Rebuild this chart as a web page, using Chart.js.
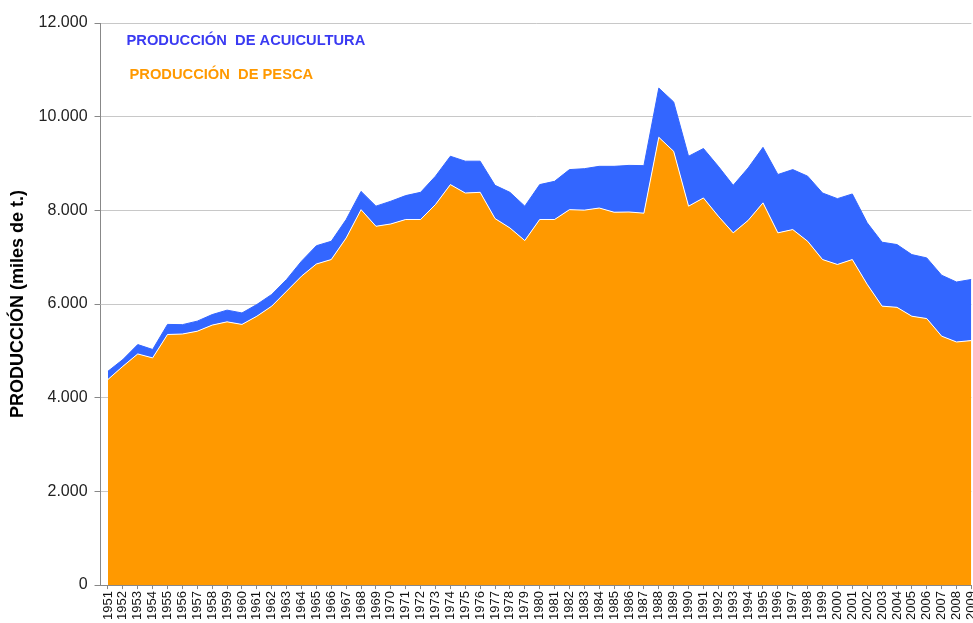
<!DOCTYPE html>
<html>
<head>
<meta charset="utf-8">
<script src="https://cdn.jsdelivr.net/npm/chart.js@4/dist/chart.umd.min.js"></script>
<style>
  html, body { margin: 0; padding: 0; background: #fff; overflow: hidden; }
  #wrap { width: 989px; height: 622px; position: relative; }
</style>
</head>
<body>
<div id="wrap"><canvas id="chart"></canvas></div>
<script>
// Años (eje X)
const years = [];
for (let y = 1951; y <= 2009; y++) years.push(y);

// Producción de pesca (miles de t.)
const pesca = [
  4390, 4670, 4935, 4850, 5350, 5360, 5420, 5550, 5620, 5565,
  5740, 5955, 6275, 6595, 6855, 6950, 7410, 8015, 7660, 7710,
  7805, 7805, 8125, 8550, 8370, 8385, 7825, 7625, 7355, 7805,
  7805, 8015, 8005, 8050, 7960, 7965, 7940, 9560, 9260, 8090,
  8265, 7875, 7520, 7785, 8160, 7520, 7590, 7340, 6950, 6845,
  6950, 6420, 5955, 5930, 5740, 5690, 5315, 5190, 5220
];

// Producción de acuicultura (miles de t.), apilada sobre la pesca
const acuicultura = [
  175, 145, 200, 180, 215, 200, 215, 225, 250, 245,
  250, 250, 250, 320, 390, 390, 395, 390, 430, 485,
  510, 580, 605, 605, 680, 665, 710, 760, 735, 745,
  815, 855, 885, 890, 980, 995, 1015, 1050, 1055, 1065,
  1055, 1065, 1015, 1120, 1185, 1245, 1280, 1390, 1420, 1405,
  1400, 1315, 1365, 1340, 1315, 1295, 1300, 1280, 1305
];

const yTicks = [0, 2000, 4000, 6000, 8000, 10000, 12000];

const legendItems = [
  { text: 'PRODUCCIÓN  DE ACUICULTURA', color: '#3a3af2', dx: 26, dy: 18 },
  { text: 'PRODUCCIÓN  DE PESCA', color: '#ff9900', dx: 29, dy: 52 }
];

// Leyenda en texto dentro del área del gráfico
const textLegend = {
  id: 'textLegend',
  afterDraw(chart) {
    const ctx = chart.ctx;
    const area = chart.chartArea;
    ctx.save();
    ctx.font = 'bold 14.7px "Liberation Sans", Arial, sans-serif';
    ctx.textBaseline = 'middle';
    legendItems.forEach(item => {
      ctx.fillStyle = item.color;
      ctx.fillText(item.text, area.left + item.dx, area.top + item.dy);
    });
    ctx.restore();
  }
};

const fmt = v => v.toString().replace(/\B(?=(\d{3})+(?!\d))/g, '.');

new Chart(document.getElementById('chart'), {
  type: 'line',
  data: {
    datasets: [
      {
        label: 'PRODUCCIÓN DE PESCA',
        data: years.map((y, i) => ({ x: y, y: pesca[i] })),
        backgroundColor: '#ff9900',
        borderColor: '#ffffff',
        borderWidth: 1,
        pointRadius: 0,
        tension: 0,
        fill: 'origin'
      },
      {
        label: 'PRODUCCIÓN DE ACUICULTURA',
        data: years.map((y, i) => ({ x: y, y: acuicultura[i] })),
        backgroundColor: '#3366ff',
        borderColor: '#3366ff',
        borderWidth: 1,
        pointRadius: 0,
        tension: 0,
        fill: '-1'
      }
    ]
  },
  options: {
    responsive: true,
    maintainAspectRatio: false,
    animation: false,
    layout: { padding: { top: 23, left: 7, right: 0, bottom: 0 } },
    plugins: {
      legend: { display: false },
      tooltip: { enabled: false }
    },
    scales: {
      x: {
        type: 'linear',
        min: 1950.5,
        max: 2009,
        afterBuildTicks: axis => { axis.ticks = years.map(v => ({ value: v })); },
        ticks: {
          autoSkip: false,
          minRotation: 90,
          maxRotation: 90,
          padding: 2,
          color: '#111',
          font: { family: '"Liberation Sans", Arial, sans-serif', size: 13 },
          callback: v => String(v)
        },
        grid: { drawOnChartArea: false, tickLength: 4, color: '#888' },
        border: { color: '#888', width: 1 }
      },
      y: {
        stacked: true,
        min: 0,
        max: 12000,
        afterBuildTicks: axis => { axis.ticks = yTicks.map(v => ({ value: v })); },
        title: {
          display: true,
          text: 'PRODUCCIÓN (miles de t.)',
          color: '#000',
          font: { family: '"Liberation Sans", Arial, sans-serif', size: 18, weight: 'bold' },
          padding: { top: 0, bottom: 3 }
        },
        ticks: {
          color: '#222',
          padding: 7,
          font: { family: '"Liberation Sans", Arial, sans-serif', size: 16 },
          callback: v => fmt(v)
        },
        grid: { color: '#c8c8c8', tickLength: 6, tickColor: '#888' },
        border: { color: '#888', width: 1 }
      }
    }
  },
  plugins: [textLegend]
});
</script>
</body>
</html>
